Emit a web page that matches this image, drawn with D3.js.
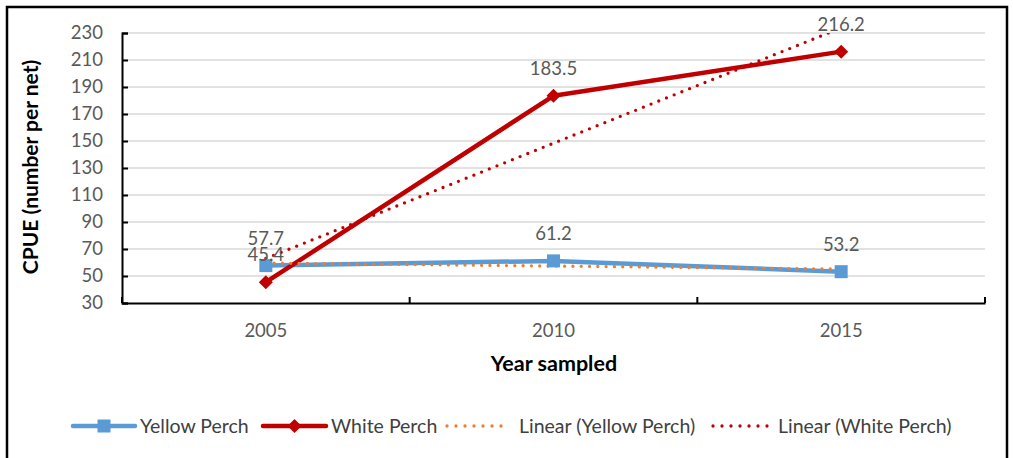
<!DOCTYPE html>
<html><head><meta charset="utf-8">
<script src="https://cdn.jsdelivr.net/npm/d3@7/dist/d3.min.js"></script>
<style>
html,body{margin:0;padding:0;background:#fff;}
svg{display:block;font-family:Lato, "Open Sans", sans-serif;}
</style></head>
<body>
<svg id="chart" width="1013" height="458"></svg>
<script>
const years = ["2005", "2010", "2015"];
const yellowPerch = [57.7, 61.2, 53.2];
const whitePerch = [45.4, 183.5, 216.2];
const yTicks = [30, 50, 70, 90, 110, 130, 150, 170, 190, 210, 230];
const seriesNames = ["Yellow Perch", "White Perch", "Linear (Yellow Perch)", "Linear (White Perch)"];

const svg = d3.select("#chart");
const plot = {left: 122, right: 985, top: 33, bottom: 303};

// frame
svg.append("rect").attr("x", 7).attr("y", 7).attr("width", 1000).attr("height", 460)
  .attr("fill", "#fff").attr("stroke", "#000").attr("stroke-width", 2.5);

const x = d3.scaleBand().domain(years).range([plot.left, plot.right]).padding(0);
const y = d3.scaleLinear().domain([30, 230]).range([plot.bottom, plot.top]);
const cx = d => x(d) + x.bandwidth() / 2;

// gridlines
svg.append("g").selectAll("line").data(yTicks.filter(t => t > 30)).join("line")
  .attr("x1", plot.left).attr("x2", plot.right)
  .attr("y1", d => y(d)).attr("y2", d => y(d))
  .attr("stroke", "#d9d9d9").attr("stroke-width", 1.5);

// y axis
const yAxis = d3.axisLeft(y).tickValues(yTicks).tickSize(-6).tickPadding(19);
const gy = svg.append("g").attr("transform", `translate(${plot.left},0)`).call(yAxis);
gy.select(".domain").attr("stroke", "#000").attr("stroke-width", 2);
gy.selectAll(".tick line").attr("stroke", "#000").attr("stroke-width", 2);
gy.selectAll(".tick text").attr("fill", "#595959").style("font-size", "18.5px").style("font-family", "Lato");

// x axis
const xAxis = d3.axisBottom(x).tickSize(0).tickPadding(21);
const gx = svg.append("g").attr("transform", `translate(0,${plot.bottom})`).call(xAxis);
gx.select(".domain").attr("stroke", "#000").attr("stroke-width", 2);
gx.selectAll(".tick text").attr("fill", "#595959").style("font-size", "18.5px").style("font-family", "Lato");
// category boundary ticks (inside)
const bounds = years.map(d => x(d)).concat([x(years[years.length - 1]) + x.bandwidth()]);
gx.append("g").selectAll("line").data(bounds).join("line")
  .attr("x1", d => d).attr("x2", d => d).attr("y1", 0).attr("y2", -6)
  .attr("stroke", "#000").attr("stroke-width", 2);

// axis titles
svg.append("text").attr("x", 554).attr("y", 371).attr("text-anchor", "middle")
  .style("font-size", "21.5px").style("font-weight", "bold").attr("fill", "#000").text("Year sampled");
svg.append("text").attr("transform", `translate(38,167) rotate(-90)`).attr("text-anchor", "middle")
  .style("font-size", "21px").style("font-weight", "bold").attr("fill", "#000").text("CPUE (number per net)");

// clip
svg.append("clipPath").attr("id", "plotclip").append("rect")
  .attr("x", plot.left).attr("y", plot.top).attr("width", plot.right - plot.left).attr("height", plot.bottom - plot.top);

function trend(vals) {
  const xs = vals.map((v, i) => i + 1);
  const mx = d3.mean(xs), my = d3.mean(vals);
  const b = d3.sum(xs.map((xi, i) => (xi - mx) * (vals[i] - my))) / d3.sum(xs.map(xi => (xi - mx) ** 2));
  const a = my - b * mx;
  return xs.map(xi => a + b * xi);
}

const line = d3.line().x((d, i) => cx(years[i])).y(d => y(d));
const gPlot = svg.append("g").attr("clip-path", "url(#plotclip)");

// series lines
gPlot.append("path").datum(yellowPerch).attr("d", line).attr("fill", "none")
  .attr("stroke", "#5b9bd5").attr("stroke-width", 4.5).attr("stroke-linejoin", "round").attr("stroke-linecap", "round");
gPlot.append("path").datum(whitePerch).attr("d", line).attr("fill", "none")
  .attr("stroke", "#c00000").attr("stroke-width", 4.5).attr("stroke-linejoin", "round").attr("stroke-linecap", "round");

// trendlines
gPlot.append("path").datum(trend(yellowPerch)).attr("d", line).attr("fill", "none")
  .attr("stroke", "#ed7d31").attr("stroke-width", 3.3).attr("stroke-dasharray", "0 8.3").attr("stroke-linecap", "round");
gPlot.append("path").datum(trend(whitePerch)).attr("d", line).attr("fill", "none")
  .attr("stroke", "#c00000").attr("stroke-width", 3.3).attr("stroke-dasharray", "0 8.3").attr("stroke-linecap", "round");

// markers
svg.append("g").selectAll("rect").data(yellowPerch).join("rect")
  .attr("x", (d, i) => cx(years[i]) - 6.5).attr("y", d => y(d) - 6.5).attr("width", 13).attr("height", 13)
  .attr("fill", "#5b9bd5");
svg.append("g").selectAll("path").data(whitePerch).join("path")
  .attr("d", d3.symbol(d3.symbolDiamond2, 125))
  .attr("transform", (d, i) => `translate(${cx(years[i])},${y(d)})`)
  .attr("fill", "#c00000");

// data labels
function labels(vals) {
  svg.append("g").selectAll("text").data(vals).join("text")
    .attr("x", (d, i) => cx(years[i])).attr("y", d => y(d) - 21)
    .attr("text-anchor", "middle").attr("fill", "#595959").style("font-size", "18.5px")
    .text(d => d.toFixed(1));
}
labels(yellowPerch);
labels(whitePerch);

// legend
const ly = 426;
const leg = [
  {x1: 73, x2: 135, tx: 140, color: "#5b9bd5", type: "square"},
  {x1: 263, x2: 326, tx: 331, color: "#c00000", type: "diamond"},
  {x1: 447, x2: 507, tx: 519, color: "#ed7d31", type: "dot"},
  {x1: 713, x2: 768, tx: 778, color: "#c00000", type: "dot"}
];
const gl = svg.append("g");
leg.forEach((l, i) => {
  if (l.type === "dot") {
    gl.append("line").attr("x1", l.x1).attr("x2", l.x2).attr("y1", ly).attr("y2", ly)
      .attr("stroke", l.color).attr("stroke-width", 3.3).attr("stroke-dasharray", "0 9").attr("stroke-linecap", "round");
  } else {
    gl.append("line").attr("x1", l.x1).attr("x2", l.x2).attr("y1", ly).attr("y2", ly)
      .attr("stroke", l.color).attr("stroke-width", 4.5).attr("stroke-linecap", "round");
    const m = (l.x1 + l.x2) / 2;
    if (l.type === "square") {
      gl.append("rect").attr("x", m - 6.5).attr("y", ly - 6.5).attr("width", 13).attr("height", 13).attr("fill", l.color);
    } else {
      gl.append("path").attr("d", d3.symbol(d3.symbolDiamond2, 125)).attr("transform", `translate(${m},${ly})`).attr("fill", l.color);
    }
  }
  gl.append("text").attr("x", l.tx).attr("y", ly + 7).attr("fill", "#404040").style("font-size", "19.5px")
    .text(seriesNames[i]);
});
</script>
</body></html>
